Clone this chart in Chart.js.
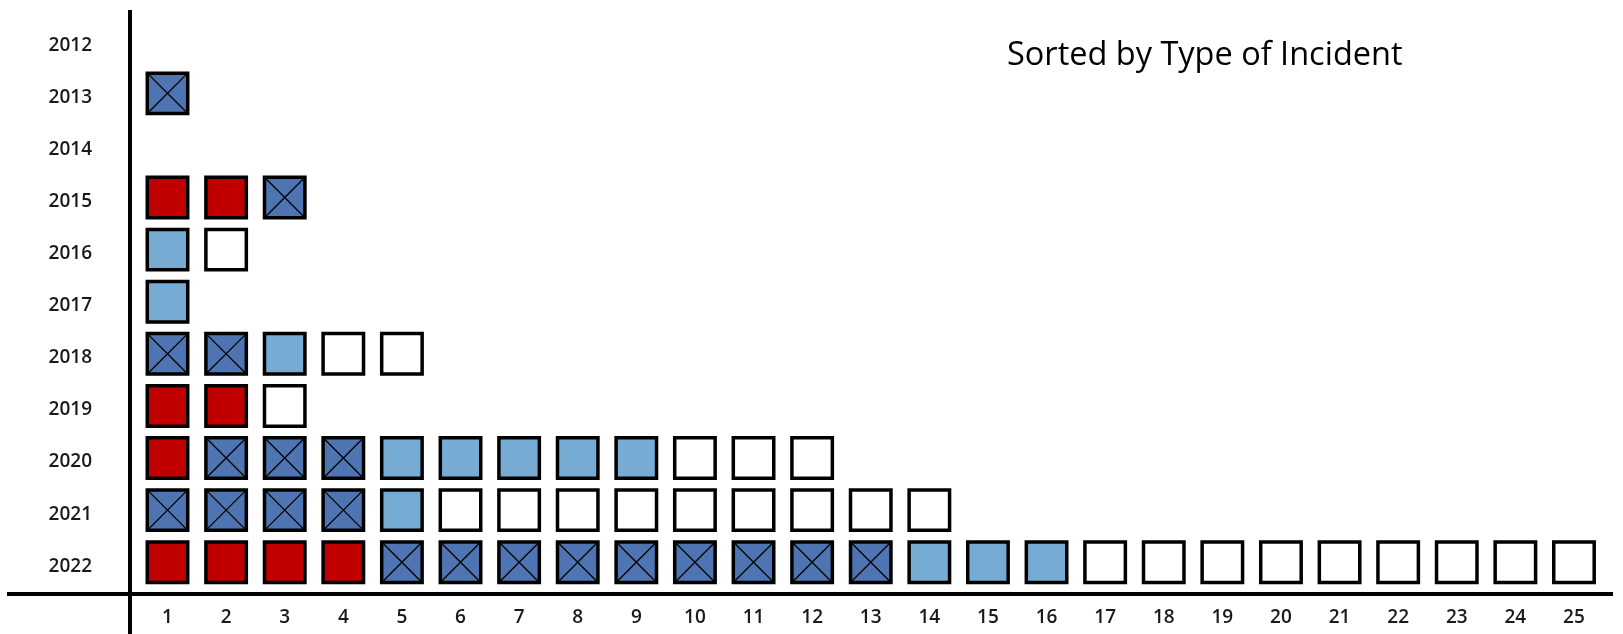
<!DOCTYPE html>
<html>
<head>
<meta charset="utf-8">
<script src="https://cdn.jsdelivr.net/npm/chart.js@4/dist/chart.umd.min.js"></script>
<style>
  html, body { margin: 0; padding: 0; background: #ffffff; }
  #wrap { width: 1623px; height: 634px; }
</style>
</head>
<body>
<div id="wrap"><canvas id="c" width="1623" height="634"></canvas></div>
<script>
// ---- data ----
const years = ['2012','2013','2014','2015','2016','2017','2018','2019','2020','2021','2022'];
const columns = [1,2,3,4,5,6,7,8,9,10,11,12,13,14,15,16,17,18,19,20,21,22,23,24,25];
// number of incidents of each type per year (cells are laid out in this order)
const redCounts       = [0,0,0,2,0,0,0,2,1,0,4];
const darkBlueCounts  = [0,1,0,1,0,0,2,0,3,4,9];
const lightBlueCounts = [0,0,0,0,1,1,1,0,5,1,3];
const whiteCounts     = [0,0,0,0,1,0,2,1,3,9,9];
const titleText = 'Sorted by Type of Incident';

// ---- build cell positions from the counts ----
const groups = [redCounts, darkBlueCounts, lightBlueCounts, whiteCounts];
const cellPoints = [[],[],[],[]];
years.forEach((y, yi) => {
  let col = 1;
  groups.forEach((counts, gi) => {
    for (let k = 0; k < counts[yi]; k++) {
      cellPoints[gi].push({x: col, y: yi});
      col++;
    }
  });
});

// keep the large square markers from shrinking the plot area
const SC = Chart.registry.getController('scatter');
SC.prototype.getMaxOverflow = function () { return 0; };

const R = 28.6;
const cellStyle = (bg) => ({
  pointStyle: 'rect', pointRadius: R, pointHoverRadius: R,
  pointBackgroundColor: bg, pointBorderColor: '#000000',
  pointBorderWidth: 3.5, pointHoverBorderWidth: 3.5, showLine: false, clip: false, order: 1
});

const axisLines = {
  id: 'axisLines',
  afterDraw(chart) {
    const {ctx, chartArea} = chart;
    ctx.save();
    ctx.strokeStyle = '#000000';
    ctx.lineWidth = 4;
    ctx.beginPath();
    ctx.moveTo(7, chartArea.bottom);
    ctx.lineTo(chartArea.right, chartArea.bottom);
    ctx.moveTo(chartArea.left, chartArea.top);
    ctx.lineTo(chartArea.left, chart.height);
    ctx.stroke();
    ctx.fillStyle = '#000000';
    ctx.font = '32.5px "Open Sans"';
    ctx.textBaseline = 'alphabetic';
    ctx.textAlign = 'left';
    ctx.fillText(titleText, 1007, 65);
    ctx.restore();
  }
};

const tickFont = {family: '"Open Sans"', size: 19, weight: '600'};

new Chart(document.getElementById('c'), {
  type: 'scatter',
  data: {
    datasets: [
      Object.assign({data: cellPoints[0]}, cellStyle('#C00000')),
      Object.assign({data: cellPoints[1]}, cellStyle('#4F74B2')),
      Object.assign({data: cellPoints[2]}, cellStyle('#76ABD3')),
      Object.assign({data: cellPoints[3]}, cellStyle('#FFFFFF')),
      {
        data: cellPoints[1], pointStyle: 'crossRot', pointRadius: R, pointHoverRadius: R,
        pointBorderColor: '#000000', pointBorderWidth: 1.3, pointHoverBorderWidth: 1.3,
        showLine: false, clip: false, order: -1
      }
    ]
  },
  options: {
    responsive: false,
    animation: false,
    events: [],
    layout: {autoPadding: false, padding: {top: 10, right: 10, left: 0, bottom: 0}},
    plugins: {legend: {display: false}, tooltip: {enabled: false}, title: {display: false}},
    scales: {
      x: {
        type: 'linear', min: 0.36, max: 25.666,
        grid: {display: false, drawTicks: false},
        border: {display: false},
        afterBuildTicks: (s) => { s.ticks = columns.map(v => ({value: v})); },
        afterFit: (s) => { s.height = 40; s.paddingLeft = 0; s.paddingRight = 0; },
        ticks: {color: '#1a1a1a', font: tickFont, padding: 12, maxRotation: 0, autoSkip: false,
                callback: (v) => String(v)}
      },
      y: {
        type: 'linear', reverse: true, min: -0.6, max: 10.61,
        grid: {display: false, drawTicks: false},
        border: {display: false},
        afterBuildTicks: (s) => { s.ticks = years.map((_, i) => ({value: i})); },
        afterFit: (s) => { s.width = 130; s.paddingTop = 0; s.paddingBottom = 0; },
        ticks: {color: '#1a1a1a', font: tickFont, padding: 38, labelOffset: 4, autoSkip: false,
                callback: (v) => years[v]}
      }
    }
  },
  plugins: [axisLines]
});
</script>
</body>
</html>
